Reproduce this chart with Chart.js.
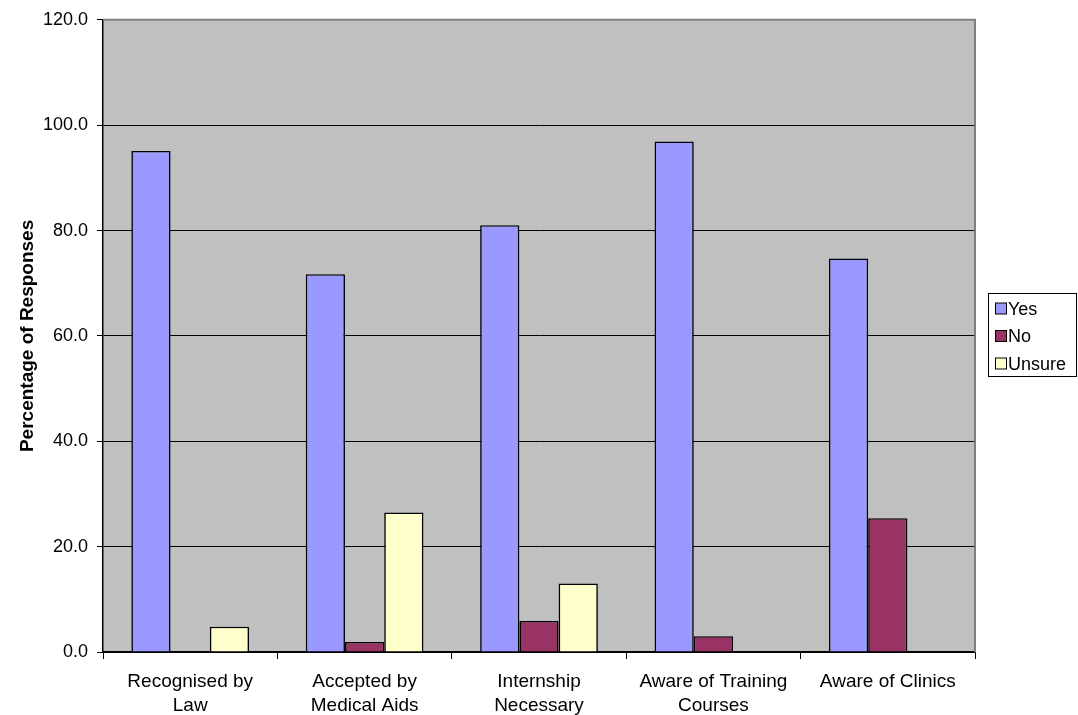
<!DOCTYPE html>
<html>
<head>
<meta charset="utf-8">
<title>Percentage of Responses</title>
<script src="https://cdn.jsdelivr.net/npm/chart.js"></script>
<style>
  html, body { margin: 0; padding: 0; background: #fff; }
  #wrap { width: 1078px; height: 715px; position: relative; }
</style>
</head>
<body>
<div id="wrap"><canvas id="surveyChart" width="1078" height="715"></canvas></div>
<script>
// Survey answers, percent of respondents per question
const categories = [
    ['Recognised by', 'Law'],
    ['Accepted by', 'Medical Aids'],
    ['Internship', 'Necessary'],
    ['Aware of Training', 'Courses'],
    ['Aware of Clinics']
];
const yesValues    = [95.1, 71.7, 81.0, 96.9, 74.7];
const noValues     = [0.0, 1.9, 5.9, 3.0, 25.4];
const unsureValues = [4.8, 26.5, 13.0, 0.0, 0.0];
const seriesNames  = ['Yes', 'No', 'Unsure'];
const yTicks       = [0, 20, 40, 60, 80, 100, 120];

const FONT = '"Liberation Sans", Arial, Helvetica, sans-serif';
const colors = ['#9999FF', '#993366', '#FFFFCC'];

// grey plot background + grey frame on top/right
const plotArea = {
    id: 'plotArea',
    beforeDraw(chart){
        const a = chart.chartArea, ctx = chart.ctx;
        ctx.save();
        ctx.fillStyle = '#C0C0C0';
        ctx.fillRect(a.left, a.top, a.right - a.left, a.bottom - a.top);
        ctx.restore();
    },
    afterDatasetsDraw(chart){
        const a = chart.chartArea, ctx = chart.ctx;
        ctx.save();
        ctx.strokeStyle = '#808080';
        ctx.lineWidth = 2;
        ctx.beginPath();
        ctx.moveTo(a.left, a.top);
        ctx.lineTo(a.right, a.top);
        ctx.lineTo(a.right, a.bottom);
        ctx.stroke();
        ctx.restore();
    }
};

// boxed legend on the right
const boxLegend = {
    id: 'boxLegend',
    afterDraw(chart){
        const ctx = chart.ctx;
        const x = 988, y = 293, w = 89, h = 84;
        ctx.save();
        ctx.fillStyle = '#fff';
        ctx.fillRect(x, y, w, h);
        ctx.strokeStyle = '#000';
        ctx.lineWidth = 1;
        ctx.strokeRect(x + 0.5, y + 0.5, w - 1, h - 1);
        ctx.font = '18px ' + FONT;
        ctx.textBaseline = 'middle';
        chart.data.datasets.forEach((ds, i) => {
            const cy = 309 + i * 27.5;
            ctx.fillStyle = ds.backgroundColor;
            ctx.fillRect(995.5, cy - 6, 11, 11);
            ctx.strokeStyle = '#000';
            ctx.strokeRect(995.5, cy - 6, 11, 11);
            ctx.fillStyle = '#000';
            ctx.fillText(ds.label, 1008, cy + 1);
        });
        ctx.restore();
    }
};

const ds = [yesValues, noValues, unsureValues].map((vals, i) => ({
    label: seriesNames[i],
    data: vals,
    backgroundColor: colors[i],
    borderColor: '#000',
    borderWidth: 1.6,
    borderSkipped: 'start',
    categoryPercentage: 0.675,
    barPercentage: 1.0
}));

new Chart(document.getElementById('surveyChart'), {
    type: 'bar',
    data: { labels: categories, datasets: ds },
    options: {
        responsive: false,
        animation: false,
        layout: { padding: { top: 18, right: 103, left: 0, bottom: 0 } },
        plugins: {
            legend: { display: false },
            tooltip: { enabled: false }
        },
        scales: {
            x: {
                offset: true,
                grid: { offset: true, drawOnChartArea: false, drawTicks: true, tickLength: 7, color: '#000' },
                border: { color: '#000', width: 1.5 },
                ticks: { color: '#000', font: { family: FONT, size: 19, lineHeight: 1.25 }, padding: 11, maxRotation: 0, autoSkip: false },
                afterFit(scale){ scale.height = 63; }
            },
            y: {
                min: 0, max: 120,
                afterBuildTicks(scale){ scale.ticks = yTicks.map(v => ({ value: v })); },
                grid: {
                    color: ctx => (ctx.tick && ctx.tick.value === 120) ? 'rgba(0,0,0,0)' : '#000',
                    lineWidth: 1,
                    tickLength: 6,
                    tickColor: '#000'
                },
                border: { color: '#000', width: 1.5 },
                ticks: { color: '#000', font: { family: FONT, size: 18 }, padding: 9, callback: v => Number(v).toFixed(1) },
                title: { display: true, text: 'Percentage of Responses', color: '#000', font: { family: FONT, size: 19, weight: 'bold' }, padding: { top: 16, bottom: 0 } },
                afterFit(scale){ scale.width = 103; }
            }
        }
    },
    plugins: [plotArea, boxLegend]
});
</script>
</body>
</html>
